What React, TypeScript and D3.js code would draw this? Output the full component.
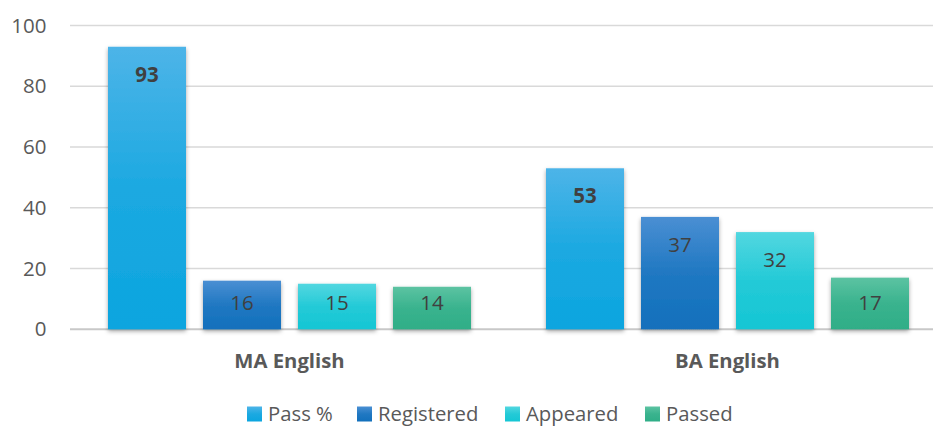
import React from "react";
import * as d3 from "d3";

const categories = ["MA English", "BA English"];
const seriesNames = ["Pass %", "Registered", "Appeared", "Passed"];
const passPct = [93, 53];
const registered = [16, 37];
const appeared = [15, 32];
const passed = [14, 17];
const yTicks = [0, 20, 40, 60, 80, 100];
const seriesTop = ["#4DB4E8", "#4A8FD3", "#52D7E0", "#5CC3A2"];
const seriesBottom = ["#0BA5DF", "#1270BC", "#14C6D4", "#2FAE87"];
const boldLabel = [true, false, false, false];

const W = 933;
const H = 426;
const FONT = "'Open Sans', 'Noto Sans', sans-serif";

export default function App() {
  const values = [passPct, registered, appeared, passed];
  const y = d3.scaleLinear().domain([0, 100]).range([329.3, 25.5]);
  const x0 = d3.scaleBand<string>().domain(categories).range([70.5, 946.5]).paddingInner(0).paddingOuter(0);
  const groupW = 363;
  const x1 = d3
    .scaleBand<string>()
    .domain(seriesNames)
    .range([0, groupW])
    .paddingInner(17 / 95)
    .paddingOuter(0);
  const bw = x1.bandwidth();

  return (
    <svg width={W} height={H} style={{ position: "absolute", left: 0, top: 0, background: "#fff" }} fontFamily={FONT}>
      <defs>
        {seriesNames.map((s, i) => (
          <linearGradient key={s} id={`g${i}`} x1="0" y1="0" x2="0" y2="1">
            <stop offset="0" stopColor={seriesTop[i]} />
            <stop offset="0.5" stopColor={d3.interpolateRgb(seriesTop[i], seriesBottom[i])(0.75)} />
            <stop offset="1" stopColor={seriesBottom[i]} />
          </linearGradient>
        ))}
        <filter id="sh" x="-20%" y="-20%" width="140%" height="140%">
          <feDropShadow dx="0" dy="2" stdDeviation="2.2" floodColor="#000" floodOpacity="0.35" />
        </filter>
      </defs>
      {yTicks.map((t) => (
        <g key={t}>
          <line x1={70} x2={W} y1={y(t)} y2={y(t)} stroke={t === 0 ? "#C8C8C8" : "#D9D9D9"} strokeWidth={t === 0 ? 2 : 1.5} />
          <text x={46.5} y={y(t)} dy="0.35em" textAnchor="end" fontSize={20.5} fill="#595959">
            {t}
          </text>
        </g>
      ))}
      {categories.map((c, ci) => {
        const gx = (x0(c) as number) + x0.bandwidth() / 2 - groupW / 2;
        return (
          <g key={c}>
            {seriesNames.map((s, si) => {
              const v = values[si][ci];
              const bx = gx + (x1(s) as number);
              const top = y(v);
              const base = y(0);
              const ly = Math.min(top + 28, base - 26);
              return (
                <g key={s}>
                  <rect x={bx} y={top} width={bw} height={base - top} fill={`url(#g${si})`} filter="url(#sh)" />
                  <text
                    x={bx + bw / 2}
                    y={ly}
                    dy="0.35em"
                    textAnchor="middle"
                    fontSize={20.5}
                    fontWeight={boldLabel[si] ? 700 : 400}
                    fill="#404040"
                  >
                    {v}
                  </text>
                </g>
              );
            })}
            <text
              x={(x0(c) as number) + x0.bandwidth() / 2}
              y={361}
              dy="0.35em"
              textAnchor="middle"
              fontSize={20.3}
              fontWeight={700}
              fill="#595959"
            >
              {c}
            </text>
          </g>
        );
      })}
      {seriesNames.map((s, i) => {
        const lx = [247, 357, 505, 645][i];
        return (
          <g key={s}>
            <rect x={lx} y={406.5} width={15} height={15} fill={`url(#g${i})`} />
            <text x={lx + 21} y={414} dy="0.35em" fontSize={20.3} fill="#595959">
              {s}
            </text>
          </g>
        );
      })}
    </svg>
  );
}
